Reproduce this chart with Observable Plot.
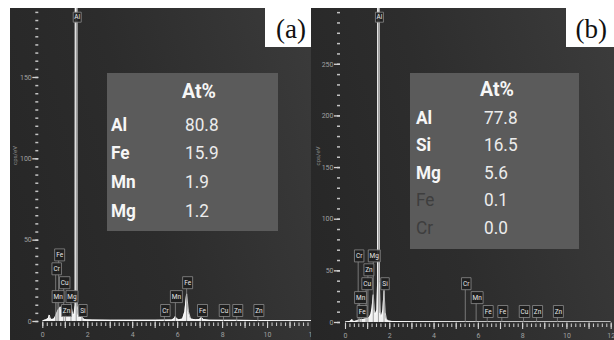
<!DOCTYPE html>
<html><head><meta charset="utf-8">
<script src="https://cdn.jsdelivr.net/npm/d3@7"></script>
<script src="https://cdn.jsdelivr.net/npm/@observablehq/plot@0.6"></script>
<style>
html,body{margin:0;padding:0;background:#fff;}
#chart{position:relative;width:614px;height:340px;overflow:hidden;background:#fff;}
.panel{position:absolute;}
.tbl{position:absolute;}
.t{position:absolute;font-family:Roboto,"Noto Sans",sans-serif;font-size:18.5px;line-height:1;white-space:nowrap;transform-origin:0 50%;transform:translateY(-50%) scaleX(0.93);}
.tag{position:absolute;background:#fff;font-family:"Liberation Serif","DejaVu Serif",serif;font-size:27px;line-height:1;color:#111;}
</style></head><body><div id="chart"></div><script>
// ---------- data ----------
// (a) spectrum: energy (keV) and counts (cps/eV)
const energyA = [0,0.15,0.25,0.29,0.33,0.4,0.5,0.56,0.62,0.68,0.74,0.79,0.85,0.9,0.95,1.0,1.06,1.12,1.18,1.24,1.28,1.33,1.39,1.44,1.47,1.505,1.53,1.58,1.64,1.70,1.74,1.78,1.85,1.95,2.2,3,4,5,5.75,5.85,5.9,5.95,6.05,6.22,6.32,6.40,6.48,6.58,6.8,6.97,7.06,7.15,7.4,8,8.6,9.5,10.5,12];
const cpsA    = [0.5,1,2,4,2,1.2,1.5,3,5,7,8,9,6,4.5,5,4.5,3.5,3,3.5,6,8,5,4,10,900,900,10,4,2.5,2.5,3,2,1.3,1,0.9,0.8,0.8,0.8,0.9,1.8,3,1.8,1,1.5,6,17,6,1.5,1,1.2,2.5,1.2,0.8,0.7,0.7,0.6,0.5,0.5];
// (b) spectrum
const energyB = [0,0.2,0.26,0.29,0.32,0.4,0.5,0.6,0.7,0.8,0.9,1.0,1.08,1.15,1.2,1.254,1.3,1.36,1.42,1.45,1.47,1.505,1.53,1.57,1.63,1.69,1.74,1.79,1.85,1.95,2.1,3,4,6,8,10,12];
const cpsB    = [0.5,1,2,3,1.5,1,1.5,2.5,3,3,3.5,4,5,8,14,27,12,8,12,40,900,900,40,9,6,12,31,10,3,1.5,1,0.8,0.7,0.6,0.5,0.5,0.4];

// peak markers
const markerElementsA = ["Al","Fe","Cr","Cu","Mn","Mg","Zn","Si","Cr","Mn","Fe","Fe","Cu","Zn","Zn"];
const markerEnergiesA = [1.487,0.705,0.573,0.93,0.637,1.254,1.012,1.74,5.41,5.90,6.40,7.06,8.04,8.63,9.57];
const markerLevelsA   = ["top",4,3,2,1,1,0,0,0,1,2,0,0,0,0];
const markerElementsB = ["Al","Cr","Mg","Zn","Cu","Si","Mn","Fe","Cr","Mn","Fe","Fe","Cu","Zn","Zn"];
const markerEnergiesB = [1.487,0.573,1.254,1.012,0.93,1.74,0.637,0.705,5.41,5.90,6.40,7.06,8.04,8.63,9.57];
const markerLevelsB   = ["top",4,4,3,2,2,1,0,2,1,0,0,0,0,0];

// composition tables
const tableHeader = "At%";
const tableElementsA = ["Al","Fe","Mn","Mg"];
const tableValuesA   = ["80.8","15.9","1.9","1.2"];
const tableElementsB = ["Al","Si","Mg","Fe","Cr"];
const tableValuesB   = ["77.8","16.5","5.6","0.1","0.0"];

// axis ticks
const yTicksA = [0,50,100,150];
const yTicksB = [0,50,100,150,200,250];
const xTickLabels = [0,2,4,6,8,10,12];
const panelTags = ["(a)","(b)"];
const axisLabel = "cps/eV";

// ---------- drawing ----------
const chart = d3.select("#chart");
const boxW = {Al: 8, Si: 8.5, Cr: 9.5, Fe: 10, Zn: 10, Cu: 10.5, Mn: 12, Mg: 12};
const boxSymbol = (w, h) => ({draw(ctx) { ctx.rect(-w / 2, -h / 2, w, h); }});

function addPanel(cfg) {
  const plotH = cfg.height - cfg.marginBottom;
  const pxPerUnit = plotH / cfg.yMax;
  const spec = cfg.energy.map((e, i) => ({e, c: cfg.cps[i]}));
  const markers = cfg.markerElements.map((el, i) => ({el, e: cfg.markerEnergies[i], level: cfg.markerLevels[i]}));
  const boxH = d => d.level === "top" ? 10 : 12;
  const my = d => d.level === "top" ? cfg.yMax - 8.7 / pxPerUnit : (11 + 13.9 * d.level) / pxPerUnit;
  const groups = d3.groups(markers, d => d.el + "|" + (d.level === "top"));
  const boxMarks = groups.map(([, arr]) => Plot.dot(arr, {
    x: "e", y: my, dx: 1,
    symbol: boxSymbol(arr[0].level === "top" ? 8 : boxW[arr[0].el], boxH(arr[0])),
    fill: "#1e1e1e", fillOpacity: 0.9, stroke: "#8c8c8c", strokeWidth: 0.8
  }));
  const minorY = d3.range(0, cfg.yMax, cfg.yMinorStep);
  const minorX = d3.range(0, 12.001, 0.2).map(v => +v.toFixed(1));
  const majorX = d3.range(0, 13, 1);
  const svg = Plot.plot({
    width: cfg.width, height: cfg.height,
    marginLeft: cfg.marginLeft, marginRight: cfg.marginRight, marginTop: 0, marginBottom: cfg.marginBottom,
    x: {domain: [0, 12], label: null},
    y: {domain: [0, cfg.yMax], label: null},
    style: {background: cfg.bg, overflow: "hidden", fontFamily: "Roboto, 'Noto Sans', sans-serif"},
    marks: [
      Plot.areaY(spec, {x: "e", y: "c", fill: "#f2f2f2", clip: true}),
      Plot.lineY(spec, {x: "e", y: "c", stroke: "#ffffff", strokeWidth: 0.8, clip: true}),
      Plot.ruleX(markers, {x: "e", y1: 0, y2: d => my(d) - boxH(d) / 2 / pxPerUnit, stroke: "#8a8a8a", strokeWidth: 0.8}),
      ...boxMarks,
      Plot.text(markers, {x: "e", y: my, dx: 1, text: "el", fill: "#e8e8e8", fontSize: 6.5}),
      Plot.axisY({ticks: minorY, tickSize: 3, dx: -cfg.tickGap, fill: "none", stroke: "#c4c4c4", strokeWidth: 1.5, label: null}),
      Plot.axisY({ticks: cfg.yTicks, tickSize: 6, tickPadding: 1, dx: -cfg.tickGap, stroke: "#d4d4d4", strokeWidth: 1.3, fill: "#a0a0a0", fontSize: 7, label: null}),
      Plot.axisX({ticks: minorX, tickSize: 3.5, dy: 1.5, fill: "none", stroke: "#c4c4c4", strokeWidth: 1.1, label: null}),
      Plot.axisX({ticks: majorX, tickSize: 6.5, dy: 0.5, fill: "none", stroke: "#d4d4d4", strokeWidth: 1.1, label: null}),
      Plot.axisX({ticks: xTickLabels, tickSize: 0, tickPadding: 11, stroke: "none", fill: "#a0a0a0", fontSize: 7, label: null, tickFormat: d => String(d)}),
      Plot.text([axisLabel], {frameAnchor: "left", rotate: -90, dx: cfg.labelDx, fill: "#8a8a8a", fontSize: 6})
    ]
  });
  chart.append("div").attr("class", "panel")
    .style("left", cfg.left + "px").style("top", cfg.top + "px")
    .style("width", cfg.width + "px").style("height", cfg.height + "px")
    .node().appendChild(svg);
}

function addTable(t) {
  chart.append("div").attr("class", "tbl")
    .style("left", t.left + "px").style("top", t.top + "px")
    .style("width", t.width + "px").style("height", t.height + "px")
    .style("background", "#5b5b5b");
  chart.append("div").attr("class", "t").text(tableHeader)
    .style("left", t.headerLeft + "px").style("top", t.headerY + "px")
    .style("font-size", "19.5px").style("transform", "translateY(-50%)")
    .style("font-weight", "700").style("color", "#f6f6f6");
  t.elements.forEach((el, i) => {
    const y = t.rowY0 + i * t.rowStep;
    const dim = parseFloat(t.values[i]) < 0.5;
    chart.append("div").attr("class", "t").text(el)
      .style("left", t.elLeft + "px").style("top", y + "px")
      .style("font-weight", dim ? "400" : "700").style("color", dim ? "#3e3e3e" : "#f6f6f6");
    chart.append("div").attr("class", "t").text(t.values[i])
      .style("left", t.valLeft + "px").style("top", y + "px")
      .style("font-weight", "400").style("color", "#ececec");
  });
}

addPanel({left: 10, top: 8, width: 302, height: 332, marginLeft: 32.3, marginRight: 0, marginBottom: 19, yMax: 192.4,
  yMinorStep: 5, yTicks: yTicksA, tickGap: 4, labelDx: -27.3,
  energy: energyA, cps: cpsA, markerElements: markerElementsA, markerEnergies: markerEnergiesA, markerLevels: markerLevelsA,
  bg: "linear-gradient(75deg, #262626 0%, #2c2c2c 45%, #3b3b3b 100%)"});
addPanel({left: 311, top: 8, width: 303, height: 332, marginLeft: 34, marginRight: 3.3, marginBottom: 18, yMax: 304,
  yMinorStep: 10, yTicks: yTicksB, tickGap: 5, labelDx: -27,
  energy: energyB, cps: cpsB, markerElements: markerElementsB, markerEnergies: markerEnergiesB, markerLevels: markerLevelsB,
  bg: "linear-gradient(75deg, #262626 0%, #2d2d2d 45%, #3c3c3c 100%)"});

addTable({left: 107, top: 73, width: 171, height: 158, headerLeft: 182, headerY: 91.5, elLeft: 110.5, valLeft: 184.5,
  rowY0: 124.5, rowStep: 28.7, elements: tableElementsA, values: tableValuesA});
addTable({left: 410, top: 73, width: 169, height: 176, headerLeft: 480, headerY: 90, elLeft: 415.5, valLeft: 483.5,
  rowY0: 117.5, rowStep: 27.6, elements: tableElementsB, values: tableValuesB});

chart.append("div").attr("class", "tag").text(panelTags[0])
  .style("left", "265px").style("top", "0px").style("width", "46px").style("height", "47px")
  .style("padding-top", "16px").style("box-sizing", "border-box").style("text-align", "right").style("padding-right", "5px");
chart.append("div").attr("class", "tag").text(panelTags[1])
  .style("left", "566px").style("top", "0px").style("width", "48px").style("height", "47px")
  .style("padding-top", "16px").style("box-sizing", "border-box").style("text-align", "right").style("padding-right", "7px");
</script></body></html>
